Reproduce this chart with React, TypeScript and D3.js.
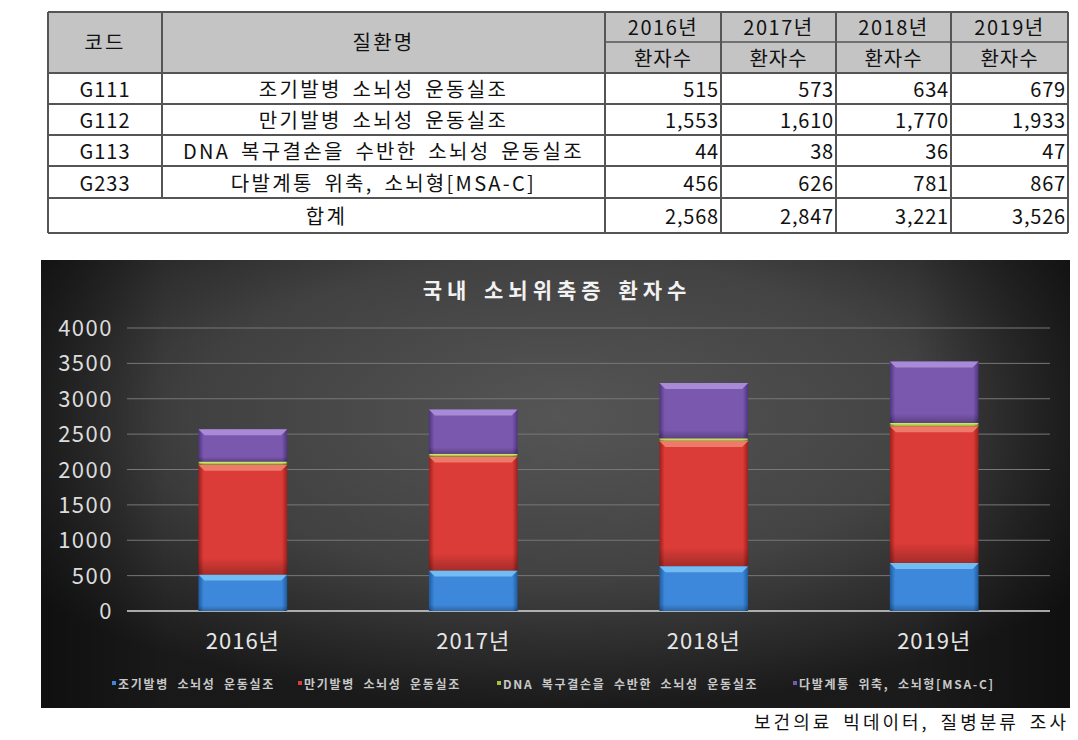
import React from "react";
import * as d3 from "d3";

const years = ["2016년", "2017년", "2018년", "2019년"];
const codes = ["G111", "G112", "G113", "G233"];
const diseases = [
  "조기발병 소뇌성 운동실조",
  "만기발병 소뇌성 운동실조",
  "DNA 복구결손을 수반한 소뇌성 운동실조",
  "다발계통 위축, 소뇌형[MSA-C]",
];
const earlyOnset = [515, 573, 634, 679];
const lateOnset = [1553, 1610, 1770, 1933];
const dnaRepair = [44, 38, 36, 47];
const msaC = [456, 626, 781, 867];
const totals = [2568, 2847, 3221, 3526];
const yTicks = [0, 500, 1000, 1500, 2000, 2500, 3000, 3500, 4000];

const seriesValues = [earlyOnset, lateOnset, dnaRepair, msaC];
const colors = [
  { base: "#3d88da", light: "#72bcf4", dark: "#1f5aa0" },
  { base: "#dc3c37", light: "#f07a6a", dark: "#9c1f1c" },
  { base: "#a6c23a", light: "#d2e070", dark: "#6f8a1e" },
  { base: "#7a58ae", light: "#a88ad6", dark: "#4e3480" },
];

const FONT = "'Noto Sans CJK KR', 'Noto Sans', sans-serif";

export default function App() {
  // ---------- table ----------
  const colX = [48, 162, 605, 721, 836, 951, 1068];
  const rowY = [12, 42, 73, 104, 135, 166, 198, 233];
  const fmt = d3.format(",");
  const lineC = "#555";

  // ---------- chart ----------
  const cx0 = 41, cy0 = 260, cw = 1029, ch = 448;
  const x = d3.scaleBand<string>().domain(years).range([127, 1050]).paddingInner(0.615).paddingOuter(0.31);
  const y = d3.scaleLinear().domain([0, 4000]).range([611, 328]);

  const keys = ["s0", "s1", "s2", "s3"];
  const rows = years.map((yr, i) => {
    const o: any = { year: yr };
    keys.forEach((k, j) => (o[k] = seriesValues[j][i]));
    return o;
  });
  const stacked = d3.stack<any>().keys(keys)(rows);

  const legendX = [112, 298, 497, 793];
  const kr = { letterSpacing: 2.3, wordSpacing: 4 };

  return (
    <svg width={1078} height={740} style={{ display: "block", position: "absolute", left: 0, top: 0 }} fontFamily={FONT}>
      <defs>
        <radialGradient id="bg" cx="50%" cy="35%" r="65%">
          <stop offset="0%" stopColor="#5c5c5c" />
          <stop offset="55%" stopColor="#474747" />
          <stop offset="100%" stopColor="#1c1c1c" />
        </radialGradient>
        <linearGradient id="bgH" x1="0" x2="1" y1="0" y2="0">
          <stop offset="0%" stopColor="#000" stopOpacity={0.45} />
          <stop offset="12%" stopColor="#000" stopOpacity={0.1} />
          <stop offset="85%" stopColor="#000" stopOpacity={0.05} />
          <stop offset="100%" stopColor="#000" stopOpacity={0.45} />
        </linearGradient>
        {colors.map((c, i) => (
          <linearGradient key={i} id={`bar${i}`} x1="0" x2="1" y1="0" y2="0">
            <stop offset="0%" stopColor={c.dark} />
            <stop offset="6%" stopColor={c.base} />
            <stop offset="94%" stopColor={c.base} />
            <stop offset="100%" stopColor={c.dark} />
          </linearGradient>
        ))}
        {colors.map((c, i) => (
          <linearGradient key={"v" + i} id={`barv${i}`} x1="0" x2="0" y1="0" y2="1">
            <stop offset="0%" stopColor="#fff" stopOpacity={0} />
            <stop offset="85%" stopColor="#000" stopOpacity={0} />
            <stop offset="100%" stopColor="#000" stopOpacity={0.25} />
          </linearGradient>
        ))}
      </defs>

      {/* ---------- TABLE ---------- */}
      <rect x={colX[0]} y={rowY[0]} width={colX[6] - colX[0]} height={rowY[2] - rowY[0]} fill="#c4c4c4" />
      <rect x={colX[0]} y={rowY[2]} width={colX[6] - colX[0]} height={rowY[7] - rowY[2]} fill="#fff" />
      {[rowY[0], rowY[2], rowY[3], rowY[4], rowY[5], rowY[6], rowY[7]].map((yy, i) => (
        <line key={"h" + i} x1={colX[0]} x2={colX[6]} y1={yy} y2={yy} stroke={lineC} strokeWidth={2} />
      ))}
      <line x1={colX[2]} x2={colX[6]} y1={rowY[1]} y2={rowY[1]} stroke={lineC} strokeWidth={1.5} />
      <line x1={colX[0]} x2={colX[0]} y1={rowY[0]} y2={rowY[7]} stroke={lineC} strokeWidth={2} />
      <line x1={colX[1]} x2={colX[1]} y1={rowY[0]} y2={rowY[6]} stroke={lineC} strokeWidth={2} />
      {colX.slice(2).map((xx, i) => (
        <line key={"v" + i} x1={xx} x2={xx} y1={rowY[0]} y2={rowY[7]} stroke={lineC} strokeWidth={2} />
      ))}
      <g fontSize={20} fill="#111">
        <text x={(colX[0] + colX[1]) / 2} y={(rowY[0] + rowY[2]) / 2 + 7} textAnchor="middle" {...kr}>코드</text>
        <text x={(colX[1] + colX[2]) / 2} y={(rowY[0] + rowY[2]) / 2 + 7} textAnchor="middle" {...kr}>질환명</text>
        {years.map((yr, i) => (
          <g key={yr}>
            <text x={(colX[2 + i] + colX[3 + i]) / 2} y={rowY[1] - 7} textAnchor="middle" letterSpacing={1.5}>{yr}</text>
            <text x={(colX[2 + i] + colX[3 + i]) / 2} y={rowY[2] - 7} textAnchor="middle" letterSpacing={1}>환자수</text>
          </g>
        ))}
        {codes.map((c, r) => (
          <g key={c}>
            <text x={(colX[0] + colX[1]) / 2} y={rowY[3 + r] - 7} textAnchor="middle" letterSpacing={1}>{c}</text>
            <text x={(colX[1] + colX[2]) / 2} y={rowY[3 + r] - 7} textAnchor="middle" {...kr}>{diseases[r]}</text>
            {seriesValues[r].map((v, i) => (
              <text key={i} x={colX[3 + i] - 2} y={rowY[3 + r] - 7} textAnchor="end" letterSpacing={0.8}>{fmt(v)}</text>
            ))}
          </g>
        ))}
        <text x={(colX[0] + colX[2]) / 2} y={rowY[7] - 9} textAnchor="middle" {...kr}>합계</text>
        {totals.map((v, i) => (
          <text key={i} x={colX[3 + i] - 2} y={rowY[7] - 9} textAnchor="end" letterSpacing={0.8}>{fmt(v)}</text>
        ))}
      </g>

      {/* ---------- CHART ---------- */}
      <rect x={cx0} y={cy0} width={cw} height={ch} fill="url(#bg)" />
      <rect x={cx0} y={cy0} width={cw} height={ch} fill="url(#bgH)" />
      <text x={557} y={298} textAnchor="middle" fill="#f2f2f2" fontSize={21} fontWeight="bold" letterSpacing={5} wordSpacing={3}>국내 소뇌위축증 환자수</text>

      {yTicks.map((t) => (
        <g key={t}>
          <line x1={127} x2={1050} y1={y(t)} y2={y(t)} stroke={t === 0 ? "#d8d8d8" : "#777"} strokeWidth={t === 0 ? 1.5 : 1} />
          <text x={113} y={y(t) + 8} textAnchor="end" fill="#dcdcdc" fontSize={22} letterSpacing={1.5}>{t}</text>
        </g>
      ))}

      {stacked.map((layer, si) => (
        <g key={si}>
          {layer.map((d, i) => {
            const bx = x(years[i])!;
            const bw = x.bandwidth();
            const y0 = y(d[0]);
            const y1 = y(d[1]);
            const h = y0 - y1;
            const bev = Math.min(6, h / 2);
            return (
              <g key={i}>
                <rect x={bx} y={y1} width={bw} height={h} fill={`url(#bar${si})`} />
                <rect x={bx} y={y1} width={bw} height={h} fill={`url(#barv${si})`} />
                <polygon
                  points={`${bx},${y1} ${bx + bw},${y1} ${bx + bw - bev},${y1 + bev} ${bx + bev},${y1 + bev}`}
                  fill={colors[si].light}
                />
              </g>
            );
          })}
        </g>
      ))}

      {years.map((yr) => (
        <text key={yr} x={x(yr)! + x.bandwidth() / 2} y={649} textAnchor="middle" fill="#e6e6e6" fontSize={22} letterSpacing={1}>{yr}</text>
      ))}

      {diseases.map((nm, i) => (
        <g key={nm}>
          <rect x={legendX[i]} y={681} width={4} height={4} fill={colors[i].base} />
          <text x={legendX[i] + 6} y={689} fill="#c8c8c8" fontSize={12} fontWeight="bold" letterSpacing={1.7} wordSpacing={4}>{nm}</text>
        </g>
      ))}

      <text x={1069} y={729} textAnchor="end" fill="#111" fontSize={18} letterSpacing={3} wordSpacing={4}>보건의료 빅데이터, 질병분류 조사</text>
    </svg>
  );
}
